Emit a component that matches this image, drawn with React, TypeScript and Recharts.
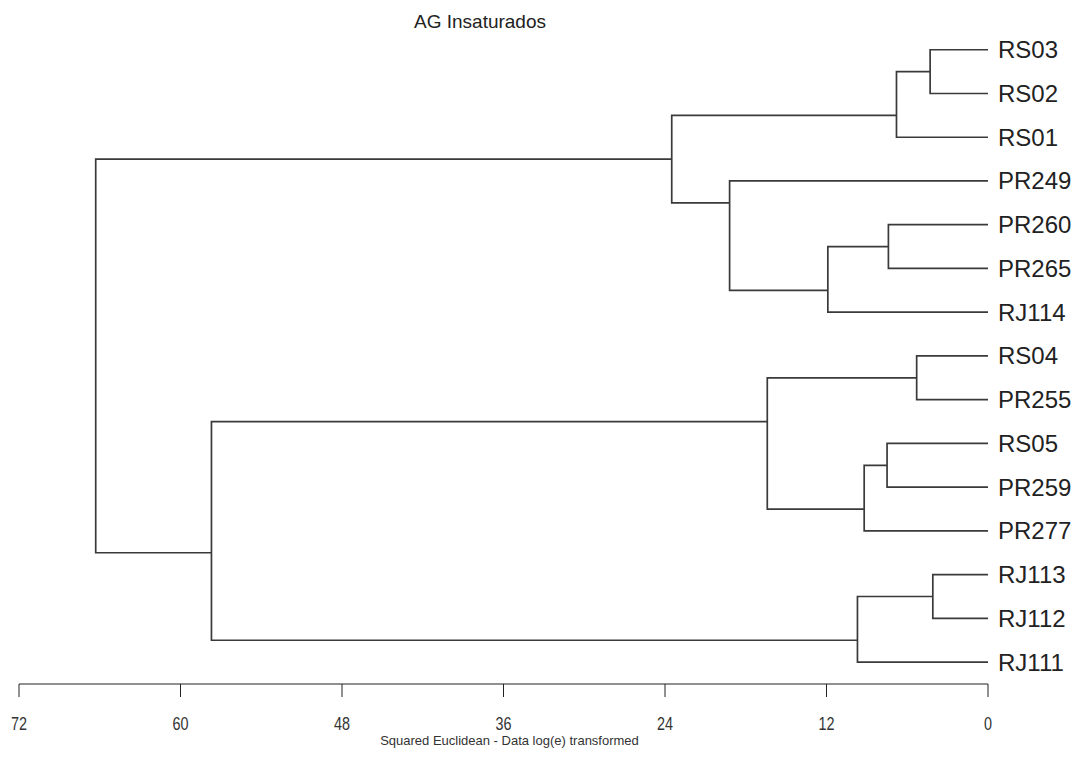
import { LineChart, Line, XAxis, YAxis } from 'recharts';

const leafNames = ['RS03', 'RS02', 'RS01', 'PR249', 'PR260', 'PR265', 'RJ114', 'RS04', 'PR255', 'RS05', 'PR259', 'PR277', 'RJ113', 'RJ112', 'RJ111'];

// Agglomeration steps: ids 0-14 are the leaves above, step k creates node 15 + k
const mergeLeft = [0, 15, 4, 17, 3, 16, 7, 9, 22, 21, 12, 25, 24, 20];
const mergeRight = [1, 2, 5, 6, 18, 19, 8, 10, 11, 23, 13, 14, 26, 27];
const mergeHeight = [4.3, 6.8, 7.4, 11.9, 19.2, 23.5, 5.3, 7.5, 9.2, 16.4, 4.1, 9.7, 57.7, 66.3];

const distanceTicks = [72, 60, 48, 36, 24, 12, 0];
const leafTicks = leafNames.map((_, i) => i);

const FONT = "'Liberation Sans', Arial, sans-serif";
const LINK_COLOR = '#3a3a3a';

type Node = { h: number; y: number; last: number };

// Each node joins its parent at the boundary between its two children's leaves
function buildLinks() {
  const nodes: Node[] = leafNames.map((_, i) => ({ h: 0, y: i, last: i }));
  const links: { x: number; y: number }[][] = [];
  mergeHeight.forEach((h, k) => {
    const a = nodes[mergeLeft[k]];
    const b = nodes[mergeRight[k]];
    links.push([
      { x: a.h, y: a.y },
      { x: h, y: a.y },
      { x: h, y: b.y },
      { x: b.h, y: b.y },
    ]);
    nodes.push({ h, y: a.last + 0.5, last: b.last });
  });
  return links;
}

const links = buildLinks();

// condensed tick digits on the distance axis
function DistanceTick(props: any) {
  const { x, y, payload } = props;
  return (
    <g transform={`translate(${x},${y})`}>
      <text
        transform="scale(0.8,1)"
        textAnchor="middle"
        dy="0.71em"
        fill="#333"
        fontSize={18}
        fontFamily={FONT}
      >
        {payload.value}
      </text>
    </g>
  );
}

export default function App() {
  return (
    <div style={{ position: 'absolute', left: 0, top: 0, width: 1083, height: 771, background: '#fff' }}>
      <div
        style={{
          position: 'absolute',
          left: 0,
          width: 960,
          top: 11,
          textAlign: 'center',
          fontFamily: FONT,
          fontSize: 19,
          color: '#222',
          lineHeight: '22px',
        }}
      >
        AG Insaturados
      </div>
      <LineChart width={1083} height={771} margin={{ top: 6, right: 0, bottom: 0, left: 19 }}>
        <XAxis
          type="number"
          dataKey="x"
          domain={[0, 72]}
          reversed
          allowDataOverflow
          ticks={distanceTicks}
          interval={0}
          height={87}
          tickSize={13}
          tickMargin={20}
          stroke="#222"
          tick={<DistanceTick />}
          label={{
            value: 'Squared Euclidean - Data log(e) transformed',
            position: 'insideBottom',
            offset: 26,
            dx: 6,
            fill: '#333',
            fontSize: 13,
            fontFamily: FONT,
          }}
        />
        <YAxis
          type="number"
          dataKey="y"
          orientation="right"
          domain={[-1, 14.5]}
          reversed
          allowDataOverflow
          ticks={leafTicks}
          interval={0}
          width={95}
          axisLine={false}
          tickLine={false}
          tickSize={0}
          tickMargin={10}
          tickFormatter={(i: number) => leafNames[i] ?? ''}
          tick={{ fill: '#222', fontSize: 24, fontFamily: FONT, textAnchor: 'start' }}
        />
        {links.map((pts, i) => (
          <Line
            key={i}
            data={pts}
            dataKey="y"
            type="linear"
            stroke={LINK_COLOR}
            strokeWidth={1.7}
            dot={false}
            activeDot={false}
            isAnimationActive={false}
          />
        ))}
      </LineChart>
    </div>
  );
}
